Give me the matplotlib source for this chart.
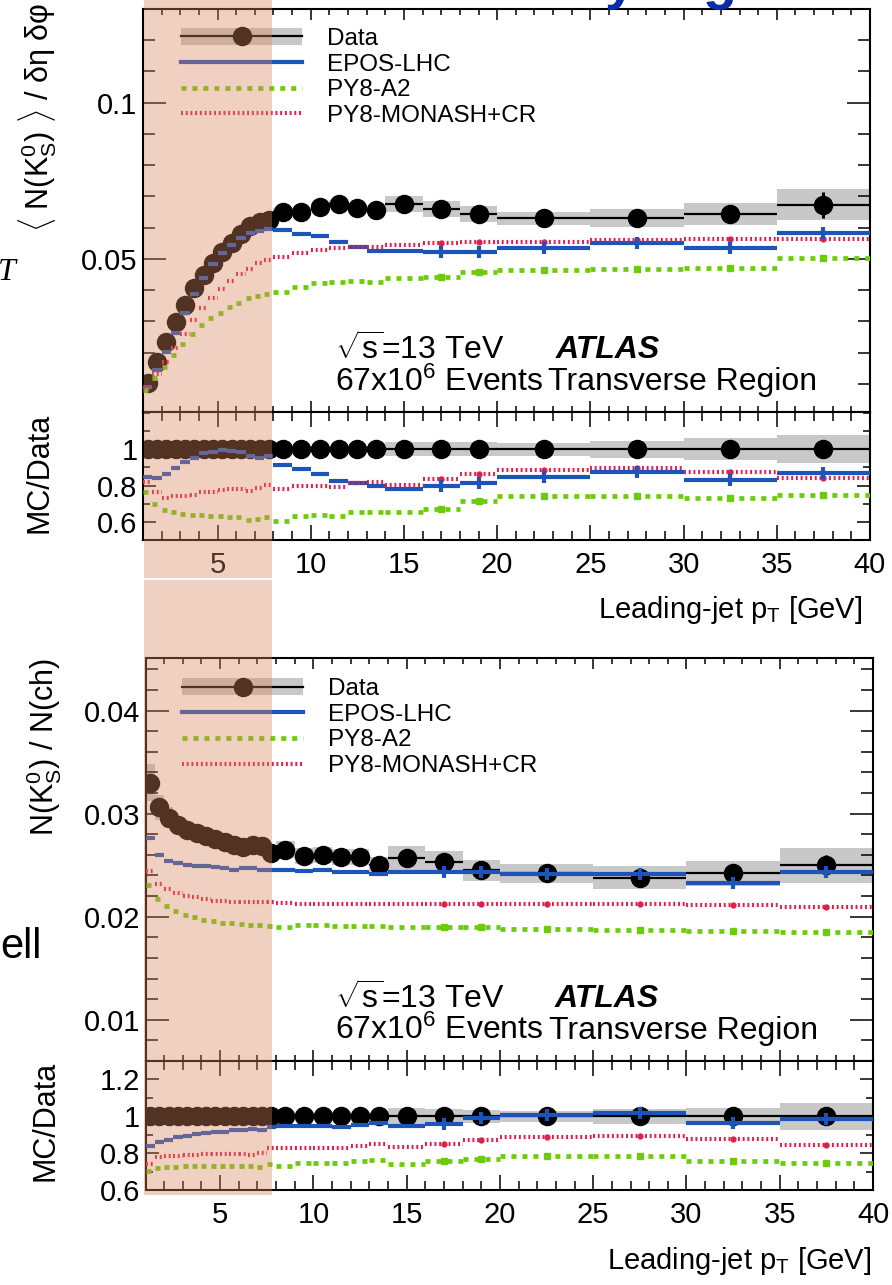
import matplotlib
matplotlib.use('Agg')
import matplotlib.pyplot as plt
from matplotlib.lines import Line2D
from matplotlib.patches import Patch, Rectangle
from matplotlib.ticker import MultipleLocator, FixedLocator, FuncFormatter
import numpy as np

plt.rcParams['font.family'] = ['Liberation Sans', 'DejaVu Sans']
plt.rcParams['mathtext.fontset'] = 'custom'
plt.rcParams['mathtext.rm'] = 'Liberation Sans'
plt.rcParams['mathtext.it'] = 'Liberation Sans:italic'
plt.rcParams['mathtext.bf'] = 'Liberation Sans:bold'
plt.rcParams['lines.scale_dashes'] = False

W, H = 892, 1285

# bin edges of leading-jet pT [GeV]
edges = [1.0, 1.5, 2.0, 2.5, 3.0, 3.5, 4.0, 4.5, 5.0, 5.5, 6.0, 6.5, 7.0, 7.5, 8.0,
         9.0, 10.0, 11.0, 12.0, 13.0, 14.0, 16.0, 18.0, 20.0, 25.0, 30.0, 35.0, 40.0]

# --- upper figure: <N(K0S)> / deta dphi ---
dens_data = [0.0103, 0.0170, 0.0234, 0.0298, 0.0353, 0.0407, 0.0449, 0.0488, 0.0521, 0.0552,
             0.0580, 0.0606, 0.0619, 0.0623, 0.0651, 0.0651, 0.0665, 0.0676, 0.0662, 0.0657,
             0.0676, 0.0659, 0.0643, 0.0630, 0.0630, 0.0643, 0.0673]
dens_syst = [0.0008, 0.0008, 0.0008, 0.0009, 0.0009, 0.0010, 0.0010, 0.0011, 0.0011, 0.0011,
             0.0012, 0.0012, 0.0012, 0.0012, 0.0013, 0.0013, 0.0013, 0.0014, 0.0014, 0.0014,
             0.0026, 0.0025, 0.0026, 0.0021, 0.0029, 0.0035, 0.0050]
dens_stat = [0.0002, 0.0002, 0.0002, 0.0002, 0.0002, 0.0002, 0.0002, 0.0002, 0.0002, 0.0002,
             0.0003, 0.0003, 0.0003, 0.0003, 0.0004, 0.0004, 0.0005, 0.0005, 0.0006, 0.0007,
             0.0006, 0.0008, 0.0010, 0.0010, 0.0015, 0.0025, 0.0042]
dens_epos = [0.0091, 0.0145, 0.0201, 0.0264, 0.0328, 0.0387, 0.0438, 0.0484, 0.0518, 0.0543,
             0.0568, 0.0584, 0.0590, 0.0596, 0.0593, 0.0580, 0.0574, 0.0555, 0.0537, 0.0526,
             0.0526, 0.0523, 0.0523, 0.0535, 0.0550, 0.0534, 0.0584]
dens_a2 = [0.0081, 0.0118, 0.0155, 0.0193, 0.0227, 0.0259, 0.0287, 0.0310, 0.0328, 0.0347,
           0.0360, 0.0374, 0.0382, 0.0388, 0.0395, 0.0411, 0.0422, 0.0427, 0.0430, 0.0425,
           0.0440, 0.0443, 0.0459, 0.0466, 0.0469, 0.0470, 0.0502]
dens_monash = [0.0087, 0.0131, 0.0171, 0.0216, 0.0260, 0.0303, 0.0342, 0.0374, 0.0404, 0.0430,
               0.0451, 0.0468, 0.0486, 0.0497, 0.0507, 0.0520, 0.0529, 0.0536, 0.0539, 0.0539,
               0.0543, 0.0550, 0.0555, 0.0555, 0.0560, 0.0563, 0.0563]
dens_r_band = [0.02, 0.02, 0.02, 0.02, 0.02, 0.02, 0.02, 0.02, 0.02, 0.02,
               0.02, 0.02, 0.02, 0.02, 0.02, 0.02, 0.02, 0.02, 0.02, 0.02,
               0.040, 0.040, 0.040, 0.035, 0.046, 0.060, 0.076]
dens_r_epos = [0.849, 0.844, 0.863, 0.896, 0.932, 0.954, 0.978, 0.987, 0.996, 0.991,
               0.987, 0.965, 0.954, 0.965, 0.914, 0.890, 0.863, 0.826, 0.813, 0.800,
               0.782, 0.798, 0.813, 0.849, 0.873, 0.831, 0.868]
dens_r_a2 = [0.764, 0.698, 0.663, 0.652, 0.643, 0.639, 0.635, 0.634, 0.630, 0.626,
             0.624, 0.612, 0.617, 0.624, 0.606, 0.630, 0.635, 0.630, 0.654, 0.652,
             0.654, 0.670, 0.716, 0.740, 0.743, 0.734, 0.749]
dens_r_monash = [0.822, 0.767, 0.734, 0.740, 0.745, 0.749, 0.762, 0.764, 0.776, 0.782,
                 0.782, 0.771, 0.786, 0.804, 0.782, 0.798, 0.798, 0.794, 0.816, 0.822,
                 0.804, 0.835, 0.864, 0.886, 0.896, 0.877, 0.841]

# --- lower figure: N(K0S) / N(ch) ---
frac_data = [0.0330, 0.0306, 0.0296, 0.0289, 0.0284, 0.0281, 0.0278, 0.0275, 0.0272, 0.0270,
             0.0268, 0.0270, 0.0269, 0.0262, 0.0265, 0.0259, 0.0260, 0.0258, 0.0258, 0.0250,
             0.0257, 0.0253, 0.0245, 0.0242, 0.0238, 0.0242, 0.0250]
frac_syst = [0.0018, 0.0012, 0.0010, 0.0008, 0.0008, 0.0008, 0.0008, 0.0008, 0.0008, 0.0008,
             0.0008, 0.0008, 0.0008, 0.0008, 0.0008, 0.0008, 0.0008, 0.0008, 0.0008, 0.0008,
             0.0012, 0.0011, 0.0010, 0.0009, 0.0011, 0.0012, 0.0017]
frac_stat = [0.0001, 0.0001, 0.0001, 0.0001, 0.0001, 0.0001, 0.0001, 0.0001, 0.0001, 0.0001,
             0.0001, 0.0001, 0.0001, 0.0001, 0.0002, 0.0002, 0.0002, 0.0002, 0.0002, 0.0002,
             0.0002, 0.0003, 0.0003, 0.0003, 0.0004, 0.0006, 0.0010]
frac_epos = [0.0276, 0.0260, 0.0254, 0.0252, 0.0250, 0.0249, 0.0249, 0.0248, 0.0247, 0.0245,
             0.0247, 0.0247, 0.0245, 0.0245, 0.0245, 0.0244, 0.0245, 0.0243, 0.0243, 0.0241,
             0.0243, 0.0243, 0.0243, 0.0241, 0.0241, 0.0233, 0.0243]
frac_a2 = [0.0231, 0.0217, 0.0210, 0.0206, 0.0202, 0.0200, 0.0197, 0.0196, 0.0194, 0.0194,
           0.0193, 0.0192, 0.0192, 0.0191, 0.0190, 0.0192, 0.0192, 0.0191, 0.0191, 0.0191,
           0.0190, 0.0190, 0.0190, 0.0188, 0.0187, 0.0186, 0.0185]
frac_monash = [0.0244, 0.0232, 0.0227, 0.0223, 0.0220, 0.0219, 0.0217, 0.0215, 0.0215, 0.0214,
               0.0214, 0.0214, 0.0214, 0.0214, 0.0213, 0.0212, 0.0212, 0.0212, 0.0212, 0.0212,
               0.0212, 0.0212, 0.0212, 0.0212, 0.0212, 0.0211, 0.0209]
frac_r_band = [0.050, 0.040, 0.030, 0.025, 0.025, 0.025, 0.025, 0.025, 0.025, 0.025,
               0.025, 0.025, 0.025, 0.025, 0.025, 0.025, 0.025, 0.025, 0.025, 0.025,
               0.045, 0.040, 0.035, 0.030, 0.040, 0.045, 0.073]
frac_r_epos = [0.841, 0.859, 0.874, 0.887, 0.895, 0.905, 0.910, 0.914, 0.917, 0.923,
               0.928, 0.932, 0.928, 0.941, 0.947, 0.950, 0.945, 0.940, 0.955, 0.965,
               0.945, 0.960, 0.990, 1.008, 1.019, 0.965, 0.983]
frac_r_a2 = [0.705, 0.718, 0.723, 0.726, 0.732, 0.732, 0.732, 0.732, 0.732, 0.732,
             0.732, 0.732, 0.723, 0.741, 0.732, 0.745, 0.745, 0.745, 0.755, 0.765,
             0.740, 0.755, 0.770, 0.783, 0.783, 0.759, 0.747]
frac_r_monash = [0.741, 0.778, 0.783, 0.786, 0.789, 0.789, 0.794, 0.795, 0.795, 0.795,
                 0.795, 0.789, 0.801, 0.827, 0.827, 0.830, 0.830, 0.830, 0.840, 0.850,
                 0.835, 0.850, 0.870, 0.890, 0.895, 0.877, 0.845]

C_EPOS = '#1d54b8'
C_A2 = '#6ccc0a'
C_MONASH = '#e0204a'
C_BAND = '#c8c8c8'
LS_A2 = (0, (3.6, 4.3))
LS_MONASH = (0, (1.4, 2.0))

lo = np.array(edges[:-1])
hi = np.array(edges[1:])
ctr = 0.5 * (lo + hi)
wid = hi - lo
wide = ctr > 16  # bins where the MC centre marker is visible


def draw_mc(ax, epos, a2, monash):
    ax.hlines(epos, lo, hi, colors=C_EPOS, linewidth=3.0, zorder=5)
    ax.hlines(a2, lo, hi, colors=C_A2, linewidth=3.4, linestyles=[LS_A2], zorder=5)
    ax.hlines(monash, lo, hi, colors=C_MONASH, linewidth=3.0, linestyles=[LS_MONASH], zorder=5)
    ax.plot(ctr[wide], np.array(monash)[wide], 'o', color=C_MONASH, ms=3.5, zorder=6)
    ax.plot(ctr[wide], np.array(a2)[wide], 's', color=C_A2, ms=5, zorder=6)
    ax.plot(ctr[wide], np.array(epos)[wide], '|', color=C_EPOS, ms=9, mew=3, zorder=6)


def draw_data(ax, val, syst, stat):
    val = np.array(val)
    syst = np.array(syst)
    ax.bar(ctr, 2 * syst, width=wid, bottom=val - syst, color=C_BAND, lw=0, zorder=1)
    ax.hlines(val, lo, hi, colors='k', linewidth=1.6, zorder=3)
    ax.errorbar(ctr, val, yerr=stat, fmt='o', color='k', ms=13, elinewidth=2.2, capsize=0, zorder=4)


def style_axis(ax, ratio=False):
    ax.set_xlim(1, 40)
    ax.xaxis.set_major_locator(MultipleLocator(5))
    ax.xaxis.set_minor_locator(MultipleLocator(1))
    ax.tick_params(which='both', direction='in', top=True, right=True, width=1.1, labelsize=21)
    if ratio:
        ax.tick_params(axis='y', which='major', length=9.4, pad=4)
        ax.tick_params(axis='y', which='minor', length=5)
        ax.tick_params(axis='x', which='major', length=10.5, pad=8)
        ax.tick_params(axis='x', which='minor', length=6.3)
    else:
        ax.tick_params(axis='y', which='major', length=16.5, pad=4)
        ax.tick_params(axis='y', which='minor', length=8.6)
        ax.tick_params(axis='x', which='major', length=8, labelbottom=False)
        ax.tick_params(axis='x', which='minor', length=4.3)
    ax.yaxis.set_major_formatter(FuncFormatter(lambda v, p: f'{v:g}'))
    for s in ax.spines.values():
        s.set_linewidth(1.5)


def add_legend(ax, x0, y0):
    h_data = (Patch(facecolor=C_BAND, edgecolor='none'),
              Line2D([], [], color='k', lw=1.6, marker='o', ms=13))
    h_epos = Line2D([], [], color=C_EPOS, lw=3.0)
    h_a2 = Line2D([], [], color=C_A2, lw=3.4, ls=LS_A2)
    h_mon = Line2D([], [], color=C_MONASH, lw=3.0, ls=LS_MONASH)
    ax.legend([h_data, h_epos, h_a2, h_mon], ['Data', 'EPOS-LHC', 'PY8-A2', 'PY8-MONASH+CR'],
              loc='upper left', bbox_to_anchor=(x0, y0), frameon=False, fontsize=17.5,
              handlelength=5.0, handleheight=0.7, handletextpad=1.0, labelspacing=0.15,
              borderaxespad=0, borderpad=0)


def add_labels(ax, y1, y2, xs):
    ax.text(xs[0], y1, r'$\sqrt{\mathrm{s}}$=13 TeV', transform=ax.transAxes, fontsize=23,
            va='center')
    ax.text(xs[1], y1, 'ATLAS', transform=ax.transAxes, fontsize=23, va='center',
            fontweight='bold', style='italic')
    ax.text(xs[0], y2, r'67x10$^{6}$ Events', transform=ax.transAxes, fontsize=23, va='center')
    ax.text(xs[2], y2, 'Transverse Region', transform=ax.transAxes, fontsize=23, va='center')


def rect(l, t, r, b):
    return [l / W, 1 - b / H, (r - l) / W, (b - t) / H]


fig = plt.figure(figsize=(W / 100, H / 100), dpi=100)
ax1 = fig.add_axes(rect(143, 9, 870, 412))
ax2 = fig.add_axes(rect(143, 412, 870, 540))
ax3 = fig.add_axes(rect(145.5, 658, 873, 1061))
ax4 = fig.add_axes(rect(145.5, 1061, 873, 1190))

# upper main
draw_data(ax1, dens_data, dens_syst, dens_stat)
draw_mc(ax1, dens_epos, dens_a2, dens_monash)
style_axis(ax1)
ax1.set_ylim(0.001, 0.13)
ax1.yaxis.set_major_locator(MultipleLocator(0.05))
ax1.yaxis.set_minor_locator(MultipleLocator(0.01))
add_legend(ax1, 0.052, 0.953)
add_labels(ax1, 0.154, 0.074, (0.264, 0.567, 0.557))

# upper ratio
draw_data(ax2, np.ones(len(ctr)), dens_r_band, np.zeros(len(ctr)))
draw_mc(ax2, dens_r_epos, dens_r_a2, dens_r_monash)
style_axis(ax2, ratio=True)
ax2.set_ylim(0.5, 1.205)
ax2.yaxis.set_major_locator(FixedLocator([0.6, 0.8, 1.0]))
ax2.yaxis.set_minor_locator(MultipleLocator(0.1))
ax2.set_xlabel(r'Leading-jet p$_{\rm T}$ [GeV]', fontsize=21, loc='right')
ax2.xaxis.set_label_coords(0.989, -0.42)

# lower main
draw_data(ax3, frac_data, frac_syst, frac_stat)
draw_mc(ax3, frac_epos, frac_a2, frac_monash)
style_axis(ax3)
ax3.set_ylim(0.006, 0.0451)
ax3.yaxis.set_major_locator(MultipleLocator(0.01))
ax3.yaxis.set_minor_locator(MultipleLocator(0.002))
add_legend(ax3, 0.05, 0.95)
add_labels(ax3, 0.154, 0.075, (0.26, 0.563, 0.554))

# lower ratio
draw_data(ax4, np.ones(len(ctr)), frac_r_band, np.zeros(len(ctr)))
draw_mc(ax4, frac_r_epos, frac_r_a2, frac_r_monash)
style_axis(ax4, ratio=True)
ax4.set_ylim(0.6, 1.3)
ax4.yaxis.set_major_locator(MultipleLocator(0.2))
ax4.yaxis.set_minor_locator(MultipleLocator(0.1))
ax4.set_xlabel(r'Leading-jet p$_{\rm T}$ [GeV]', fontsize=21, loc='right')
ax4.xaxis.set_label_coords(0.998, -0.43)

# y titles
fig.text(38 / W, 1 - 232 / H, r'$\langle$ N(K$_{\rm S}^{0}$) $\rangle$ / δη δφ', rotation=90,
         ha='center', va='bottom', fontsize=22)
fig.text(40 / W, 1 - 413 / H, 'MC/Data', rotation=90, ha='center', va='top', fontsize=22)
fig.text(44 / W, 1 - 658 / H, r'N(K$_{\rm S}^{0}$) / N(ch)', rotation=90, ha='center', va='top',
         fontsize=22)
fig.text(45 / W, 1 - 1061 / H, 'MC/Data', rotation=90, ha='center', va='top', fontsize=22)

# pieces of the surrounding slide
fig.text(-2 / W, 1 - 280 / H, 'T', fontsize=23, family='Liberation Serif', style='italic',
         va='baseline')
fig.text(42 / W, 1 - 958 / H, 'ell', fontsize=30, ha='right', va='baseline')
fig.text(605 / W, 1 + 2 / H, 'y', fontsize=40, fontweight='bold', color='#0a2ca8', va='baseline')
fig.text(703 / W, 1 + 2 / H, 'g', fontsize=40, fontweight='bold', color='#0a2ca8', va='baseline')

# highlighted low-pT region
for t, b in [(0, 578), (580, 1195)]:
    fig.add_artist(Rectangle((144 / W, 1 - b / H), 128 / W, (b - t) / H, transform=fig.transFigure,
                             facecolor='#da845c', alpha=0.38, lw=0, zorder=1000))

fig.savefig('out.png', dpi=100)
